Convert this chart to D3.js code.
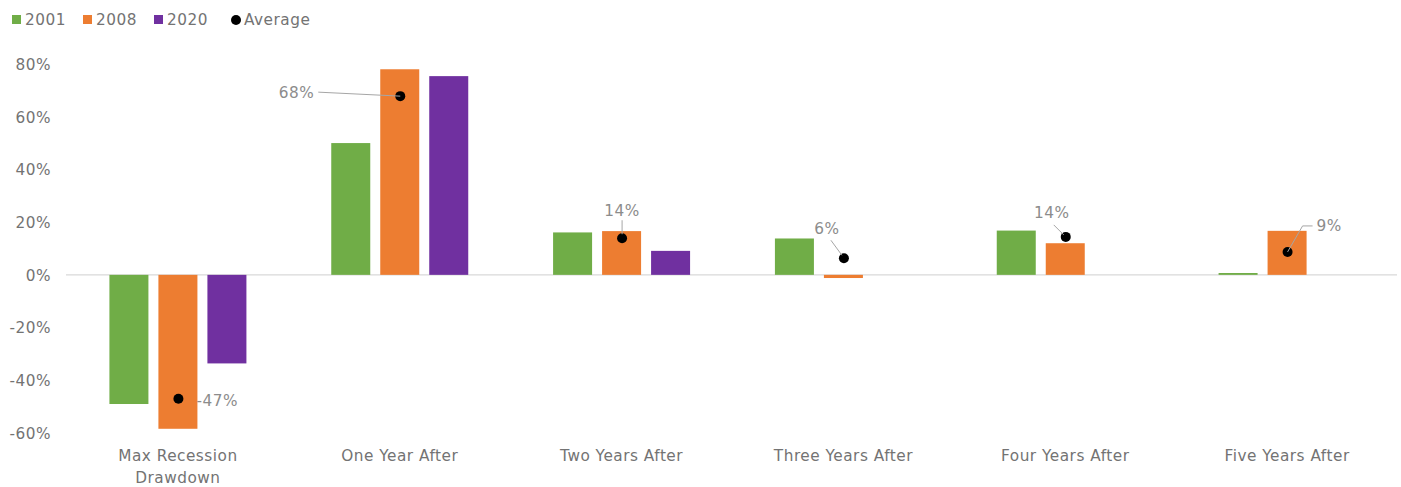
<!DOCTYPE html>
<html>
<head>
<meta charset="utf-8">
<script src="https://cdn.jsdelivr.net/npm/d3@7"></script>
<style>
  html, body { margin: 0; padding: 0; background: #fff; }
  svg { display: block; font-family: "DejaVu Sans", "Noto Sans", sans-serif; }
  text { letter-spacing: 0.5px; }
</style>
</head>
<body>
<svg id="chart" width="1401" height="487"></svg>
<script>
// Returns after recessions, by period and recession year
const categories = [["Max Recession", "Drawdown"], ["One Year After"], ["Two Years After"],
                    ["Three Years After"], ["Four Years After"], ["Five Years After"]];
const seriesNames = ["2001", "2008", "2020"];
const values2001 = [-49.0, 50.0, 16.1, 13.8, 16.8, 0.7];
const values2008 = [-58.4, 78.0, 16.6, -1.2, 12.0, 16.7];
const values2020 = [-33.6, 75.4, 9.1, null, null, null];
const averages   = [-47.0, 67.8, 13.9, 6.3, 14.4, 8.7];
const averageLabels = ["-47%", "68%", "14%", "6%", "14%", "9%"];
const yTicks = [80, 60, 40, 20, 0, -20, -40, -60];

const colors = { "2001": "#70AD47", "2008": "#ED7D31", "2020": "#7030A0" };
const textColor = "#737373";
const fontSize = 15.3;

const svg = d3.select("#chart");
const margin = { left: 67, right: 3 };
const W = 1401;

const x = d3.scaleBand().domain(d3.range(categories.length))
  .range([margin.left, W - margin.right]);
const y = d3.scaleLinear().domain([-60, 80]).range([433, 64]);
const inner = d3.scaleBand().domain(seriesNames).range([-68.5, 68.5]).paddingInner(0.204);

// y-axis labels
const yAxis = d3.axisLeft(y).tickValues(yTicks).tickSize(0).tickPadding(0)
  .tickFormat(d => d + "%");
const yg = svg.append("g").attr("transform", "translate(51,0)").call(yAxis);
yg.select(".domain").remove();
yg.selectAll("text").attr("fill", textColor).attr("font-size", fontSize)
  .attr("font-family", "\"DejaVu Sans\", sans-serif").attr("dy", "0.35em");

// zero line
svg.append("line").attr("x1", margin.left - 1).attr("x2", W - 4)
  .attr("y1", y(0)).attr("y2", y(0)).attr("stroke", "#d9d9d9").attr("stroke-width", 1.3);

// bars
const seriesValues = { "2001": values2001, "2008": values2008, "2020": values2020 };
seriesNames.forEach(s => {
  const data = seriesValues[s].map((v, i) => ({ i, v })).filter(d => d.v !== null);
  svg.append("g").selectAll("rect").data(data).join("rect")
    .attr("x", d => x(d.i) + x.bandwidth() / 2 + inner(s))
    .attr("width", inner.bandwidth())
    .attr("y", d => y(Math.max(0, d.v)))
    .attr("height", d => Math.abs(y(d.v) - y(0)))
    .attr("fill", colors[s]);
});

// average markers
const cx = i => x(i) + x.bandwidth() / 2;
svg.append("g").selectAll("circle").data(averages).join("circle")
  .attr("cx", (d, i) => cx(i) + 0.5).attr("cy", d => y(d)).attr("r", 5).attr("fill", "#000");

// average labels with leader lines (offsets relative to marker)
const labelOffsets = [
  { dx: 18, dy: 2, anchor: "start", line: null },
  { dx: -86, dy: -4, anchor: "end", line: [[-82, -4], [0, 0]] },
  { dx: 0, dy: -28, anchor: "middle", line: [[0, -18], [0, -4]] },
  { dx: -17, dy: -30, anchor: "middle", line: [[-13, -18], [-2, -3]] },
  { dx: -14, dy: -24, anchor: "middle", line: [[-12, -12], [-2, -2]] },
  { dx: 29, dy: -26, anchor: "start", line: [[25, -26], [15, -26], [0, 0]] }
];
const lbl = svg.append("g");
averages.forEach((a, i) => {
  const o = labelOffsets[i];
  const px = cx(i) + 0.5, py = y(a);
  if (o.line) {
    lbl.append("path")
      .attr("d", d3.line()(o.line.map(p => [px + p[0], py + p[1]])))
      .attr("fill", "none").attr("stroke", "#a6a6a6").attr("stroke-width", 1);
  }
  lbl.append("text").attr("x", px + o.dx).attr("y", py + o.dy).attr("dy", "0.35em")
    .attr("text-anchor", o.anchor).attr("fill", "#8c8c8c").attr("font-size", fontSize)
    .text(averageLabels[i]);
});

// category labels
const cg = svg.append("g");
categories.forEach((lines, i) => {
  const t = cg.append("text").attr("x", cx(i)).attr("y", 456)
    .attr("text-anchor", "middle").attr("fill", textColor).attr("font-size", fontSize);
  lines.forEach((l, k) => t.append("tspan").attr("x", cx(i)).attr("dy", k === 0 ? "0.35em" : "22").text(l));
});

// legend
const legendItems = [
  { name: "2001", kind: "rect", color: colors["2001"], x: 12 },
  { name: "2008", kind: "rect", color: colors["2008"], x: 83 },
  { name: "2020", kind: "rect", color: colors["2020"], x: 154 },
  { name: "Average", kind: "dot", color: "#000", x: 231 }
];
const lg = svg.append("g");
legendItems.forEach(it => {
  if (it.kind === "rect") {
    lg.append("rect").attr("x", it.x).attr("y", 15).attr("width", 9).attr("height", 9).attr("fill", it.color);
  } else {
    lg.append("circle").attr("cx", it.x + 5).attr("cy", 20).attr("r", 5).attr("fill", it.color);
  }
  lg.append("text").attr("x", it.x + 13).attr("y", 20).attr("dy", "0.35em")
    .attr("fill", textColor).attr("font-size", fontSize).text(it.name);
});
</script>
</body>
</html>
